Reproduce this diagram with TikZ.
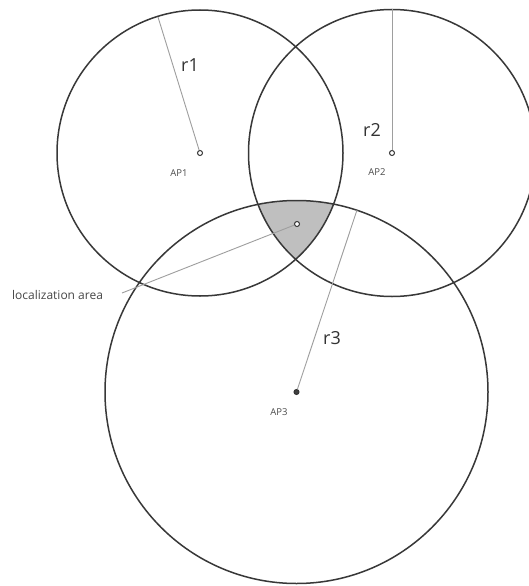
\documentclass[tikz,border=0pt]{standalone}
\usepackage{fontspec}
\setmainfont{Open Sans}
\begin{document}
\begin{tikzpicture}[x=1pt,y=-1pt,
  ring/.style={draw=black!78,line width=1.5pt},
  radline/.style={draw=black!38,line width=0.9pt},
  apdot/.style={circle,draw=black!80,line width=1pt,fill=white,inner sep=0pt,minimum size=5pt},
  apfull/.style={circle,draw=black!80,line width=1pt,fill=black!75,inner sep=0pt,minimum size=5pt},
  rlabel/.style={text=black!80,font=\fontsize{18}{20}\selectfont,inner sep=0pt},
  aplabel/.style={text=black!70,font=\fontsize{9.5}{11}\selectfont,inner sep=0pt},
  loclabel/.style={text=black!72,font=\fontsize{12}{14}\selectfont,inner sep=0pt}]
\useasboundingbox (0,0) rectangle (529,586);
\fill[white] (0,0) rectangle (529,586);
\coordinate (c1) at (200,153);
\coordinate (c2) at (392,153);
\coordinate (c3) at (296.5,392);
% shaded intersection
\begin{scope}
  \clip (c1) circle[radius=143pt];
  \clip (c2) circle[radius=143.5pt];
  \fill[black!25] (c3) circle[radius=191.5pt];
\end{scope}
\draw[ring] (c1) circle[radius=143pt];
\draw[ring] (c2) circle[radius=143.5pt];
\draw[ring] (c3) circle[radius=191.5pt];
% rim points for radii
\coordinate (e1) at (158,17);
\coordinate (e2) at (392,9.5);
\coordinate (e3) at (357,210);
\coordinate (ls) at (122,293);
% AP nodes
\node[apdot] (ap1) at (c1) {};
\node[apdot] (ap2) at (c2) {};
\node[apfull] (ap3) at (c3) {};
\node[apdot] (pt) at (297,224) {};
\draw[radline] (ap1) -- (e1);
\draw[radline] (ap2) -- (e2);
\draw[radline] (ap3) -- (e3);
\draw[radline] (ls) -- (pt);
% labels
\node[rlabel] (r1) at (190,65) {r1};
\node[rlabel] (r2) at (372,130) {r2};
\node[rlabel] (r3) at (332,338) {r3};
\node[aplabel] (l1) at (179,173) {AP1};
\node[aplabel] (l2) at (377,172) {AP2};
\node[aplabel] (l3) at (279,412) {AP3};
\node[loclabel,anchor=west] (loc) at (12,295) {localization area};
\end{tikzpicture}
\end{document}
